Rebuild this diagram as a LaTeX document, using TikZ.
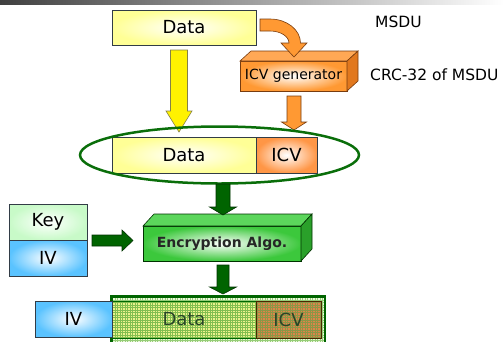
\documentclass[tikz,border=0pt]{standalone}
\usepackage{fontspec}
\setmainfont{DejaVu Sans}
\usetikzlibrary{calc,shapes.geometric}

\definecolor{yelbox}{RGB}{255,255,150}
\definecolor{orabox}{RGB}{255,150,70}
\definecolor{oraarrow}{RGB}{255,153,51}
\definecolor{oraline}{RGB}{120,60,15}
\definecolor{oratop}{RGB}{255,168,85}
\definecolor{oraside}{RGB}{225,120,30}
\definecolor{grnfront}{RGB}{60,200,60}
\definecolor{grntop}{RGB}{92,214,92}
\definecolor{grnside}{RGB}{42,160,42}
\definecolor{grndark}{RGB}{0,100,0}
\definecolor{grnline}{RGB}{0,50,0}
\definecolor{ellcol}{RGB}{10,110,10}
\definecolor{keyfill}{RGB}{200,250,200}
\definecolor{ivfill}{RGB}{90,195,255}
\definecolor{boxline}{RGB}{50,60,70}
\definecolor{hatchbase}{RGB}{236,248,220}
\definecolor{hatchline}{RGB}{150,205,120}
\definecolor{datbase}{RGB}{236,242,140}
\definecolor{datline}{RGB}{130,190,80}
\definecolor{icvbase}{RGB}{222,132,72}
\definecolor{icvline}{RGB}{140,150,70}
\definecolor{enctext}{RGB}{40,70,40}

% vertical block arrow: style, start, tip, body half width, head half width, head length
\newcommand{\vblock}[6]{%
  \path[#1] let \p1=(#2), \p2=(#3) in
    (\x1-#4,\y1) -- (\x1+#4,\y1) -- (\x1+#4,\y2+#6) -- (\x1+#5,\y2+#6)
    -- (\x1,\y2) -- (\x1-#5,\y2+#6) -- (\x1-#4,\y2+#6) -- cycle;}
% horizontal block arrow, same arguments
\newcommand{\hblock}[6]{%
  \path[#1] let \p1=(#2), \p2=(#3) in
    (\x1,\y1+#4) -- (\x2-#6,\y1+#4) -- (\x2-#6,\y1+#5) -- (\x2,\y1)
    -- (\x2-#6,\y1-#5) -- (\x2-#6,\y1-#4) -- (\x1,\y1-#4) -- cycle;}

\tikzset{
  box/.style={draw=boxline, line width=0.7pt, inner sep=0pt, outer sep=0pt,
    font=\fontsize{18}{20}\selectfont},
  databox/.style={box, shade, inner color=white, outer color=yelbox},
  icvbox/.style={box, shade, inner color=white, outer color=orabox},
  keybox/.style={box, shade, inner color=white, outer color=keyfill},
  ivbox/.style={box, shade, inner color=white, outer color=ivfill},
  yarrow/.style={fill=yellow, draw=black!55!yellow, line width=0.6pt},
  oarrow/.style={fill=oraarrow, draw=oraline, line width=0.6pt},
  garrow/.style={fill=grndark, draw=grnline, line width=0.6pt},
  label/.style={font=\fontsize{15.5}{17}\selectfont, anchor=west, inner sep=0pt},
  mesh/.style={line width=0.6pt, step=2.5pt},
}

\begin{document}
\begin{tikzpicture}[x=1pt,y=-1pt]
\clip (0,0) rectangle (504,341);
\useasboundingbox (0,0) rectangle (504,341);

% header rule
\shade[left color=black!75, right color=white] (0,0) rectangle (504,4);

% plaintext MSDU
\node[databox, minimum width=144pt, minimum height=35pt] (dtop) at (184,27.5) {Data};
\node[label] (msdu) at (375,22) {MSDU};

% ICV generator block
\node[box, shade, inner color=white, outer color=oraarrow, draw=oraline,
  minimum width=107pt, minimum height=30pt, font=\fontsize{14}{16}\selectfont]
  (gen) at (293.5,76) {ICV generator};
\filldraw[fill=oratop, draw=oraline, line width=0.6pt]
  (gen.north west) -- ++(11,-10) -- ++(107,0) -- (gen.north east) -- cycle;
\filldraw[fill=oraside, draw=oraline, line width=0.6pt]
  (gen.north east) -- ++(11,-10) -- ++(0,30) -- (gen.south east) -- cycle;
\node[label] (crc) at (370,75) {CRC-32 of MSDU};

% curved arrow into the generator
\filldraw[oarrow]
  ($(dtop.east)+(4,-8.5)$) -- (270,19) .. controls (286.8,19) and (300.5,29.8) .. (300.5,43)
  -- (307,43) -- (294,57) -- (281,43) -- (289,43)
  .. controls (289,36.4) and (280.5,31) .. (270,31) -- ($(dtop.east)+(4,3.5)$) -- cycle;

% plaintext + ICV
\node[databox, minimum width=144pt, minimum height=36pt] (dmid) at (184,155) {Data};
\node[icvbox, minimum width=61pt, minimum height=36pt, anchor=west] (imid) at (dmid.east) {ICV};

% arrows down into the concatenation
\coordinate (ya) at (179,50);
\coordinate (yb) at (179,132);
\vblock{yarrow}{ya}{yb}{8.5pt}{13pt}{21pt}
\coordinate (oa) at (294,96);
\coordinate (ob) at (294,130);
\vblock{oarrow}{oa}{ob}{7pt}{12.5pt}{8pt}

\node[ellipse, draw=ellcol, line width=2.5pt, minimum width=279pt, minimum height=57pt,
  inner sep=0pt] (ell) at (219.5,155) {};

% encryption block
\node[box, shade, inner color=white, outer color=grnfront, draw=grnline,
  minimum width=158pt, minimum height=35pt, font=\fontsize{14}{16}\selectfont\bfseries,
  text=black!85] (enc) at (222,243.5) {Encryption Algo.};
\filldraw[fill=grntop, draw=grnline, line width=0.6pt]
  (enc.north west) -- ++(11,-12) -- ++(158,0) -- (enc.north east) -- cycle;
\filldraw[fill=grnside, draw=grnline, line width=0.6pt]
  (enc.north east) -- ++(11,-12) -- ++(0,35) -- (enc.south east) -- cycle;

\coordinate (ga) at (223,184);
\coordinate (gb) at (223,215);
\vblock{garrow}{ga}{gb}{7pt}{13.5pt}{8pt}

% key material
\node[keybox, minimum width=78pt, minimum height=36pt] (key) at (48,222) {Key};
\node[ivbox, minimum width=78pt, minimum height=36pt, anchor=north] (iv) at (key.south) {IV};
\coordinate (ka) at (92,240.5);
\coordinate (kb) at (133,240.5);
\hblock{garrow}{ka}{kb}{5.5pt}{10.5pt}{11pt}

\coordinate (ea) at (223,265);
\coordinate (eb) at (223,294);
\vblock{garrow}{ea}{eb}{6pt}{13.5pt}{7pt}

% encrypted frame
\fill[hatchbase] (110,295) rectangle (326,345);
\draw[hatchline, mesh] (110,295) grid (326,345);
\fill[datbase] (112,301) rectangle (256,338);
\draw[datline, mesh] (112,301) grid (256,338);
\fill[icvbase] (256,301) rectangle (321,338);
\draw[icvline, mesh] (256,301) grid (321,338);
\draw[black!60!green, line width=0.7pt] (112,301) rectangle (256,338);
\draw[black!70!orange, line width=0.7pt] (256,301) rectangle (321,338);
\draw[grndark, line width=2.5pt] (111.25,296.25) rectangle (324.75,345);
\node[font=\fontsize{18}{20}\selectfont, text=enctext] (dbot) at (184,319.5) {Data};
\node[font=\fontsize{18}{20}\selectfont, text=enctext] (ibot) at (288.5,319.5) {ICV};
\node[ivbox, minimum width=77pt, minimum height=36pt] (ivbot) at (73.5,319) {IV};
\end{tikzpicture}
\end{document}
